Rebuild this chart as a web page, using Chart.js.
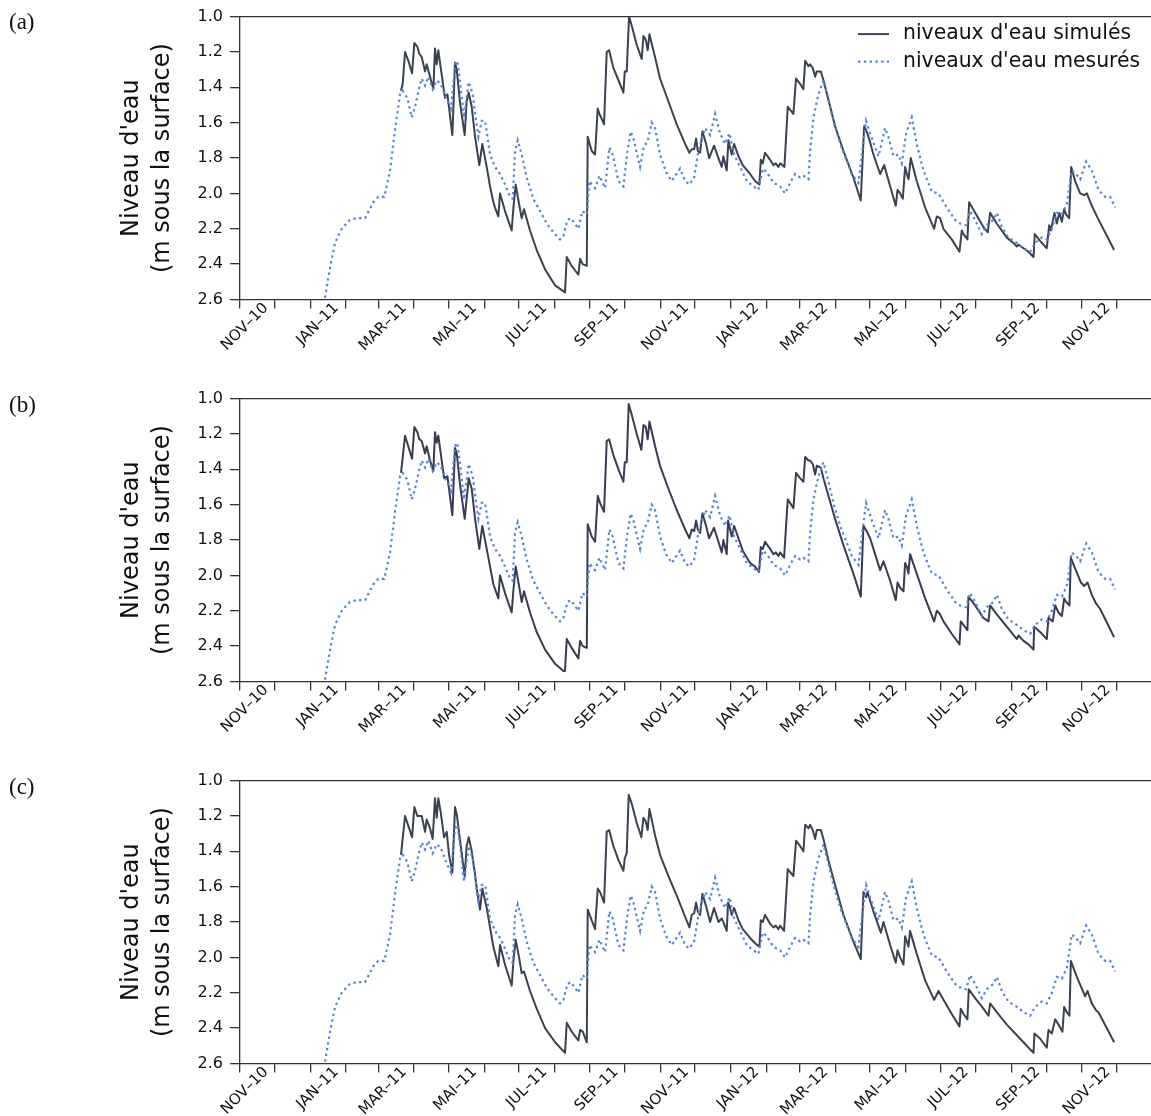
<!DOCTYPE html>
<html>
<head>
<meta charset="utf-8">
<script src="https://cdn.jsdelivr.net/npm/chart.js@4.4.1/dist/chart.umd.min.js"></script>
<style>
html, body { margin: 0; padding: 0; background: #fff; width: 1151px; height: 1116px; overflow: hidden; }
.panel { position: absolute; left: 0; width: 1151px; height: 382px; }
.tag { position: absolute; left: 9px; font-family: 'Liberation Serif', 'DejaVu Serif', serif; font-size: 23px; line-height: 1; color: #111; }
</style>
</head>
<body>
<div class="panel" style="top:0px"><canvas id="chartA" width="1151" height="382"></canvas></div>
<div class="panel" style="top:382px"><canvas id="chartB" width="1151" height="382"></canvas></div>
<div class="panel" style="top:764px"><canvas id="chartC" width="1151" height="382"></canvas></div>
<div class="tag" style="top:10px">(a)</div>
<div class="tag" style="top:393px">(b)</div>
<div class="tag" style="top:775px">(c)</div>
<script>
// days counted from 1 Nov 2010, levels in m below the surface
const obsDays = [
  73.8,78.2,82.5,88.3,95.5,101.3,108.6,115.8,120.1,125.3,
  130.3,134.6,139.0,141.3,143.3,145.3,149.1,152.0,155.7,157.8,
  160.7,163.6,167.3,170.8,174.3,178.9,183.2,186.7,188.7,191.1,
  194.5,198.6,202.1,205.0,207.0,209.9,212.8,217.1,221.4,225.8,
  230.1,234.5,236.8,238.8,241.1,244.6,248.9,254.7,260.5,266.3,
  272.1,277.9,280.8,284.3,287.2,289.5,293.8,297.3,301.1,303.4,
  305.4,308.3,312.1,317.0,320.7,323.6,328.6,332.9,336.4,339.3,
  341.6,347.4,350.8,353.7,357.5,360.4,364.7,370.0,374.9,382.1,
  386.5,390.2,394.3,398.0,403.8,408.2,412.5,416.8,421.2,425.0,
  429.0,434.2,440.0,445.8,450.1,453.9,457.4,463.2,469.0,473.3,
  477.6,482.0,486.3,489.2,493.6,495.0,497.9,502.2,506.6,510.9,
  515.3,521.1,525.4,531.2,537.0,539.9,543.6,547.1,551.5,554.4,
  560.1,563.0,567.4,571.7,574.6,578.4,583.3,587.6,593.4,600.7,
  606.5,613.7,620.9,625.3,630.5,633.9,638.3,644.1,648.4,654.2,
  657.1,661.5,667.2,674.5,680.3,686.1,690.4,696.2,700.5,704.9,
  709.2,713.6,717.9,722.2,726.0,729.5,734.7,739.6,745.4,751.2,
  755.5,759.9
];
const obsLevels = [
  2.59,2.42,2.28,2.20,2.15,2.14,2.14,2.05,2.02,2.02,
  1.87,1.64,1.44,1.42,1.44,1.46,1.57,1.51,1.40,1.35,
  1.39,1.34,1.41,1.36,1.38,1.46,1.52,1.27,1.25,1.37,
  1.57,1.37,1.44,1.59,1.68,1.59,1.59,1.78,1.85,1.89,
  1.95,2.02,2.03,1.76,1.70,1.78,1.91,2.03,2.10,2.17,
  2.22,2.26,2.24,2.15,2.14,2.16,2.20,2.10,2.12,1.93,
  1.95,1.97,1.90,1.97,1.74,1.78,1.93,1.96,1.76,1.65,
  1.69,1.85,1.73,1.71,1.60,1.63,1.78,1.88,1.93,1.86,
  1.93,1.95,1.91,1.76,1.63,1.67,1.55,1.66,1.72,1.66,
  1.78,1.85,1.93,1.96,1.98,1.86,1.88,1.94,1.96,2.00,
  1.94,1.89,1.91,1.90,1.92,1.76,1.57,1.44,1.36,1.47,
  1.59,1.72,1.79,1.89,1.94,1.78,1.59,1.66,1.74,1.79,
  1.63,1.68,1.79,1.78,1.83,1.66,1.57,1.72,1.87,1.99,
  2.00,2.08,2.15,2.17,2.18,2.10,2.15,2.23,2.18,2.15,
  2.11,2.19,2.25,2.28,2.31,2.33,2.28,2.25,2.26,2.20,
  2.11,2.12,2.06,1.87,1.89,1.92,1.82,1.87,1.98,2.02,
  2.02,2.08
];

const simADays = [
  139.8,141.3,143.3,146.2,149.4,151.4,154.0,155.7,157.8,160.7,
  162.1,165.0,167.9,169.3,170.8,172.2,174.3,178.0,180.1,184.4,
  186.7,188.2,191.1,195.1,196.8,198.6,201.2,204.1,207.8,210.4,
  214.2,217.1,220.0,221.4,224.3,225.8,230.1,235.9,237.4,239.4,
  242.3,244.6,246.6,251.8,257.6,264.9,273.6,282.2,283.7,288.0,
  293.8,295.3,297.6,301.1,301.9,305.4,308.3,310.6,312.1,316.1,
  318.4,320.5,324.2,328.6,332.9,334.1,335.8,337.8,340.1,344.5,
  348.8,350.3,352.3,354.0,355.5,360.4,364.7,372.0,379.2,386.5,
  390.2,392.2,394.3,396.0,397.5,399.5,401.5,404.7,407.3,411.6,
  415.4,418.3,419.7,422.6,424.1,425.5,427.0,429.0,432.8,436.5,
  442.9,447.2,451.0,452.2,453.9,455.9,460.3,463.2,465.2,467.5,
  469.0,472.7,475.6,480.5,482.8,486.3,489.2,490.7,493.6,495.0,
  497.3,499.4,500.8,504.3,506.6,510.9,516.7,524.0,532.6,539.0,
  541.9,544.2,547.1,550.0,555.8,559.3,564.5,569.4,570.9,573.2,
  575.5,577.5,579.0,580.4,582.4,587.6,594.9,602.7,605.0,607.9,
  610.8,618.0,624.7,626.7,628.2,631.6,633.1,638.3,645.5,649.3,
  651.3,657.1,665.8,671.6,674.5,675.9,680.3,684.6,689.0,690.1,
  694.8,700.5,702.6,704.0,707.2,709.2,711.5,713.6,715.6,717.3,
  719.9,721.7,725.1,729.5,733.0,735.3,739.6,744.0,759.0
];
const simALevels = [
  1.42,1.38,1.20,1.25,1.32,1.15,1.17,1.21,1.23,1.31,
  1.27,1.34,1.41,1.18,1.27,1.19,1.29,1.46,1.44,1.67,
  1.26,1.30,1.49,1.67,1.48,1.43,1.51,1.68,1.84,1.72,
  1.85,1.96,2.05,2.08,2.13,2.00,2.10,2.21,2.08,1.95,
  2.06,2.14,2.09,2.21,2.32,2.43,2.52,2.56,2.36,2.41,
  2.46,2.37,2.40,2.41,1.68,1.76,1.78,1.52,1.55,1.61,
  1.20,1.19,1.29,1.36,1.43,1.31,1.31,1.00,1.05,1.16,
  1.24,1.11,1.13,1.19,1.10,1.23,1.35,1.48,1.61,1.72,
  1.77,1.75,1.75,1.69,1.76,1.77,1.65,1.72,1.80,1.73,
  1.80,1.85,1.79,1.87,1.70,1.74,1.78,1.72,1.79,1.84,
  1.89,1.93,1.95,1.81,1.83,1.77,1.81,1.84,1.83,1.85,
  1.83,1.85,1.51,1.55,1.35,1.38,1.41,1.25,1.28,1.27,
  1.29,1.34,1.31,1.31,1.36,1.47,1.62,1.76,1.91,2.04,
  1.62,1.65,1.71,1.78,1.89,1.84,1.96,2.07,1.98,2.00,
  2.03,1.85,1.89,1.92,1.80,1.93,2.08,2.20,2.13,2.14,
  2.20,2.26,2.33,2.21,2.23,2.26,2.05,2.11,2.19,2.22,
  2.11,2.17,2.25,2.28,2.30,2.29,2.31,2.33,2.36,2.23,
  2.27,2.31,2.18,2.21,2.11,2.17,2.11,2.16,2.09,2.12,
  2.14,1.85,1.93,2.00,2.01,2.00,2.07,2.13,2.32
];

const simBDays = [
  139.8,143.3,149.4,151.4,154.0,155.7,157.8,160.7,162.1,165.0,
  167.9,169.3,170.8,172.2,174.3,177.2,180.1,184.4,186.7,188.2,
  191.1,195.1,198.6,201.2,204.1,207.8,210.4,214.2,220.0,224.3,
  225.8,230.1,235.9,237.4,239.4,242.3,244.6,246.6,251.8,257.6,
  264.9,273.6,280.8,282.2,283.7,288.0,293.8,295.3,297.6,301.1,
  301.9,305.4,308.3,310.6,312.6,316.1,318.4,320.5,324.2,328.6,
  332.9,334.1,335.8,337.5,340.1,344.5,348.5,350.3,352.3,354.0,
  355.5,360.4,364.7,372.0,379.2,386.5,390.2,392.2,394.3,396.0,
  397.5,399.5,401.5,404.7,407.3,411.6,415.4,418.3,419.7,422.6,
  423.8,425.5,427.0,429.0,432.8,436.5,442.9,447.2,450.7,452.2,
  453.9,455.9,460.3,463.2,465.2,467.5,469.0,472.4,475.6,480.5,
  482.8,486.3,489.2,490.7,493.6,495.0,497.3,499.4,500.8,504.3,
  506.6,510.9,516.7,524.0,532.6,539.0,541.3,544.2,547.1,550.0,
  555.8,558.7,564.5,569.4,570.9,573.2,576.1,577.5,579.0,580.4,
  581.8,587.6,594.9,602.7,605.0,607.9,610.8,618.0,624.7,625.8,
  628.2,631.6,632.5,638.3,645.5,649.9,651.3,657.1,665.8,674.5,
  675.9,680.3,684.6,689.0,689.5,694.8,700.5,702.0,705.7,707.8,
  710.7,713.6,715.6,717.3,720.2,721.4,725.1,730.1,733.0,735.9,
  739.6,743.4,746.9,759.0
];
const simBLevels = [
  1.42,1.21,1.34,1.16,1.19,1.23,1.24,1.31,1.27,1.35,
  1.41,1.19,1.25,1.21,1.31,1.45,1.44,1.66,1.28,1.31,
  1.49,1.68,1.45,1.51,1.68,1.85,1.72,1.85,2.05,2.13,
  2.00,2.10,2.21,2.08,1.95,2.06,2.15,2.09,2.21,2.32,
  2.42,2.50,2.54,2.54,2.36,2.41,2.47,2.37,2.40,2.41,
  1.71,1.78,1.81,1.55,1.59,1.64,1.24,1.23,1.32,1.40,
  1.47,1.36,1.36,1.03,1.09,1.20,1.29,1.15,1.16,1.23,
  1.13,1.27,1.38,1.51,1.63,1.74,1.79,1.74,1.75,1.69,
  1.74,1.76,1.65,1.72,1.79,1.73,1.81,1.87,1.80,1.88,
  1.69,1.74,1.78,1.72,1.79,1.86,1.93,1.95,1.98,1.84,
  1.85,1.81,1.85,1.88,1.87,1.89,1.87,1.90,1.57,1.62,
  1.42,1.45,1.47,1.33,1.35,1.35,1.37,1.43,1.38,1.39,
  1.45,1.55,1.68,1.83,1.99,2.12,1.72,1.75,1.79,1.85,
  1.97,1.92,2.03,2.14,2.04,2.07,2.09,1.93,1.95,1.99,
  1.88,1.99,2.13,2.26,2.20,2.22,2.26,2.33,2.39,2.26,
  2.28,2.31,2.12,2.17,2.24,2.26,2.17,2.22,2.29,2.36,
  2.34,2.37,2.39,2.42,2.29,2.32,2.36,2.24,2.26,2.17,
  2.21,2.23,2.13,2.15,2.17,1.90,1.96,2.04,2.06,2.04,
  2.11,2.16,2.19,2.35
];

const simCDays = [
  139.8,143.3,149.4,151.4,154.0,155.7,157.8,160.7,162.1,165.0,
  167.3,169.3,170.8,172.2,174.3,177.2,179.5,181.5,184.4,186.7,
  188.2,191.1,195.1,196.8,198.6,201.2,204.1,205.5,208.4,210.4,
  214.2,217.1,220.0,224.3,225.8,230.1,235.9,237.4,239.4,242.3,
  244.6,246.6,251.8,257.6,264.9,273.6,282.2,283.7,288.0,293.8,
  295.3,297.6,301.1,301.9,305.4,308.3,310.6,312.6,316.1,318.4,
  320.5,324.2,328.6,332.9,334.1,335.8,337.5,340.1,344.5,348.5,
  350.3,352.3,354.0,355.5,360.4,364.7,372.0,379.2,386.5,390.2,
  392.2,394.3,396.0,397.5,399.5,401.5,404.7,408.2,411.6,415.4,
  418.3,419.7,422.6,423.8,425.5,427.0,429.0,432.8,436.5,442.9,
  447.2,451.0,452.2,453.9,455.9,460.3,463.2,465.2,467.5,469.0,
  472.4,475.6,480.5,482.8,486.3,489.2,490.7,493.6,495.0,497.3,
  499.4,500.8,504.3,506.6,510.9,516.7,524.0,532.6,539.0,541.3,
  543.6,544.8,550.0,556.4,558.7,564.5,569.4,570.9,573.2,576.1,
  577.5,579.0,580.4,581.8,587.6,594.9,602.7,606.5,610.8,618.0,
  624.7,625.8,628.2,631.6,632.8,638.3,645.5,649.9,651.3,657.1,
  665.8,674.5,681.7,689.0,689.8,694.8,700.5,702.0,704.9,707.8,
  710.7,714.1,715.6,717.9,720.2,721.4,726.6,733.8,735.9,739.6,
  743.4,745.4,759.0
];
const simCLevels = [
  1.42,1.20,1.32,1.15,1.20,1.20,1.20,1.29,1.22,1.27,
  1.33,1.10,1.21,1.10,1.18,1.32,1.29,1.42,1.52,1.15,
  1.19,1.34,1.54,1.37,1.32,1.40,1.53,1.61,1.73,1.61,
  1.72,1.83,1.94,2.05,1.93,2.04,2.16,2.02,1.90,2.00,
  2.09,2.08,2.19,2.29,2.40,2.48,2.54,2.37,2.42,2.47,
  2.41,2.42,2.48,1.73,1.79,1.84,1.61,1.63,1.69,1.29,
  1.28,1.37,1.45,1.51,1.44,1.41,1.08,1.13,1.24,1.32,
  1.21,1.23,1.28,1.16,1.31,1.42,1.54,1.65,1.77,1.83,
  1.76,1.75,1.69,1.74,1.76,1.64,1.71,1.80,1.72,1.80,
  1.78,1.80,1.85,1.69,1.72,1.76,1.72,1.79,1.84,1.89,
  1.92,1.94,1.79,1.80,1.76,1.81,1.83,1.82,1.84,1.82,
  1.85,1.50,1.54,1.34,1.37,1.40,1.25,1.27,1.25,1.28,
  1.33,1.28,1.28,1.33,1.45,1.59,1.76,1.91,2.01,1.63,
  1.66,1.63,1.74,1.86,1.80,1.93,2.03,1.96,2.00,2.04,
  1.88,1.91,1.94,1.85,1.98,2.13,2.24,2.19,2.24,2.32,
  2.39,2.29,2.32,2.35,2.18,2.23,2.29,2.33,2.26,2.31,
  2.38,2.44,2.49,2.54,2.43,2.46,2.51,2.41,2.43,2.35,
  2.38,2.42,2.28,2.31,2.33,2.02,2.11,2.22,2.19,2.26,
  2.30,2.31,2.48
];

const seriesNames = ["niveaux d'eau simulés", "niveaux d'eau mesurés"];
const monthNames = ['JAN','FEV','MAR','AVR','MAI','JUN','JUL','AOU','SEP','OCT','NOV','DEC'];
const yTicks = [1.0, 1.2, 1.4, 1.6, 1.8, 2.0, 2.2, 2.4, 2.6];

const SIM_COLOR = '#3a4150';
const OBS_COLOR = '#5585d6';
const OBS_DASH = [2.4, 3.4];

// first day of each month, Nov 2010 -> Dec 2012, as day offsets
const START = Date.UTC(2010, 10, 1);
const monthTicks = [];
const monthLabels = [];
for (let i = 0; i <= 25; i++) {
  const d = new Date(Date.UTC(2010, 10 + i, 1));
  monthTicks.push((d.getTime() - START) / 86400000);
  monthLabels.push(monthNames[d.getUTCMonth()] + '\u2013' + String(d.getUTCFullYear()).slice(2));
}

function toPoints(days, levels) {
  return days.map((d, i) => ({ x: d, y: levels[i] }));
}

const framePlugin = {
  id: 'frame',
  afterDraw(chart, args, opts) {
    const ctx = chart.ctx;
    const a = chart.chartArea;
    ctx.save();
    // top spine
    ctx.strokeStyle = '#333';
    ctx.lineWidth = 1.3;
    ctx.beginPath();
    ctx.moveTo(a.left, a.top);
    ctx.lineTo(a.right, a.top);
    ctx.stroke();

    if (opts.legend) {
      const x0 = a.right - 293;
      const rows = [a.top + 17.5, a.top + 45];
      ctx.lineWidth = 2;
      ctx.strokeStyle = opts.simColor;
      ctx.beginPath();
      ctx.moveTo(x0, rows[0]);
      ctx.lineTo(x0 + 31, rows[0]);
      ctx.stroke();
      ctx.lineWidth = 2.2;
      ctx.strokeStyle = OBS_COLOR;
      ctx.setLineDash(OBS_DASH);
      ctx.beginPath();
      ctx.moveTo(x0, rows[1]);
      ctx.lineTo(x0 + 31, rows[1]);
      ctx.stroke();
      ctx.setLineDash([]);
      ctx.fillStyle = '#111';
      ctx.font = '20.4px "DejaVu Sans"';
      ctx.textBaseline = 'middle';
      ctx.textAlign = 'left';
      ctx.fillText(seriesNames[0], x0 + 45, rows[0]);
      ctx.fillText(seriesNames[1], x0 + 45, rows[1]);
    }
    ctx.restore();
  }
};

function makeChart(id, simDays, simLevels, simColor, withLegend) {
  return new Chart(document.getElementById(id), {
    type: 'line',
    data: {
      datasets: [
        {
          label: seriesNames[1],
          data: toPoints(obsDays, obsLevels),
          borderColor: OBS_COLOR,
          borderWidth: 2.2,
          borderDash: OBS_DASH,
          pointRadius: 0,
          tension: 0,
          order: 0
        },
        {
          label: seriesNames[0],
          data: toPoints(simDays, simLevels),
          borderColor: simColor,
          borderWidth: 2,
          borderJoinStyle: 'round',
          pointRadius: 0,
          tension: 0,
          order: 1
        }
      ]
    },
    options: {
      responsive: false,
      animation: false,
      layout: { padding: { top: 16, right: 0, bottom: 0, left: 0 } },
      plugins: {
        legend: { display: false },
        tooltip: { enabled: false },
        frame: { legend: withLegend, simColor: simColor }
      },
      scales: {
        x: {
          type: 'linear',
          min: 0,
          max: 791,
          afterBuildTicks: axis => { axis.ticks = monthTicks.map(v => ({ value: v })); },
          afterFit: axis => { axis.height = 82.5; },
          ticks: {
            autoSkip: false,
            minRotation: 45,
            maxRotation: 45,
            labelOffset: 26,
            padding: -9,
            color: '#111',
            font: { family: 'DejaVu Sans', size: 15 },
            callback: (v, i) => (i % 2 === 0 ? monthLabels[i] : '')
          },
          grid: { drawOnChartArea: false, drawTicks: true, tickLength: 9, color: '#333', lineWidth: 1.3 },
          border: { display: true, color: '#333', width: 1.3 }
        },
        y: {
          type: 'linear',
          reverse: true,
          min: 1.0,
          max: 2.6,
          afterBuildTicks: axis => { axis.ticks = yTicks.map(v => ({ value: v })); },
          afterFit: axis => { axis.width = 240; },
          ticks: {
            padding: 7,
            color: '#111',
            font: { family: 'DejaVu Sans', size: 16 },
            callback: v => Number(v).toFixed(1)
          },
          grid: { drawOnChartArea: false, drawTicks: true, tickLength: 10, color: '#333', lineWidth: 1.3 },
          border: { display: true, color: '#333', width: 1.3 },
          title: {
            display: true,
            text: ["Niveau d'eau", '(m sous la surface)'],
            color: '#111',
            font: { family: 'DejaVu Sans', size: 24, lineHeight: 1.3 },
            padding: { top: 116, bottom: 0 }
          }
        }
      }
    },
    plugins: [framePlugin]
  });
}

makeChart('chartA', simADays, simALevels, SIM_COLOR, true);
makeChart('chartB', simBDays, simBLevels, '#393b52', false);
makeChart('chartC', simCDays, simCLevels, SIM_COLOR, false);
</script>
</body>
</html>
